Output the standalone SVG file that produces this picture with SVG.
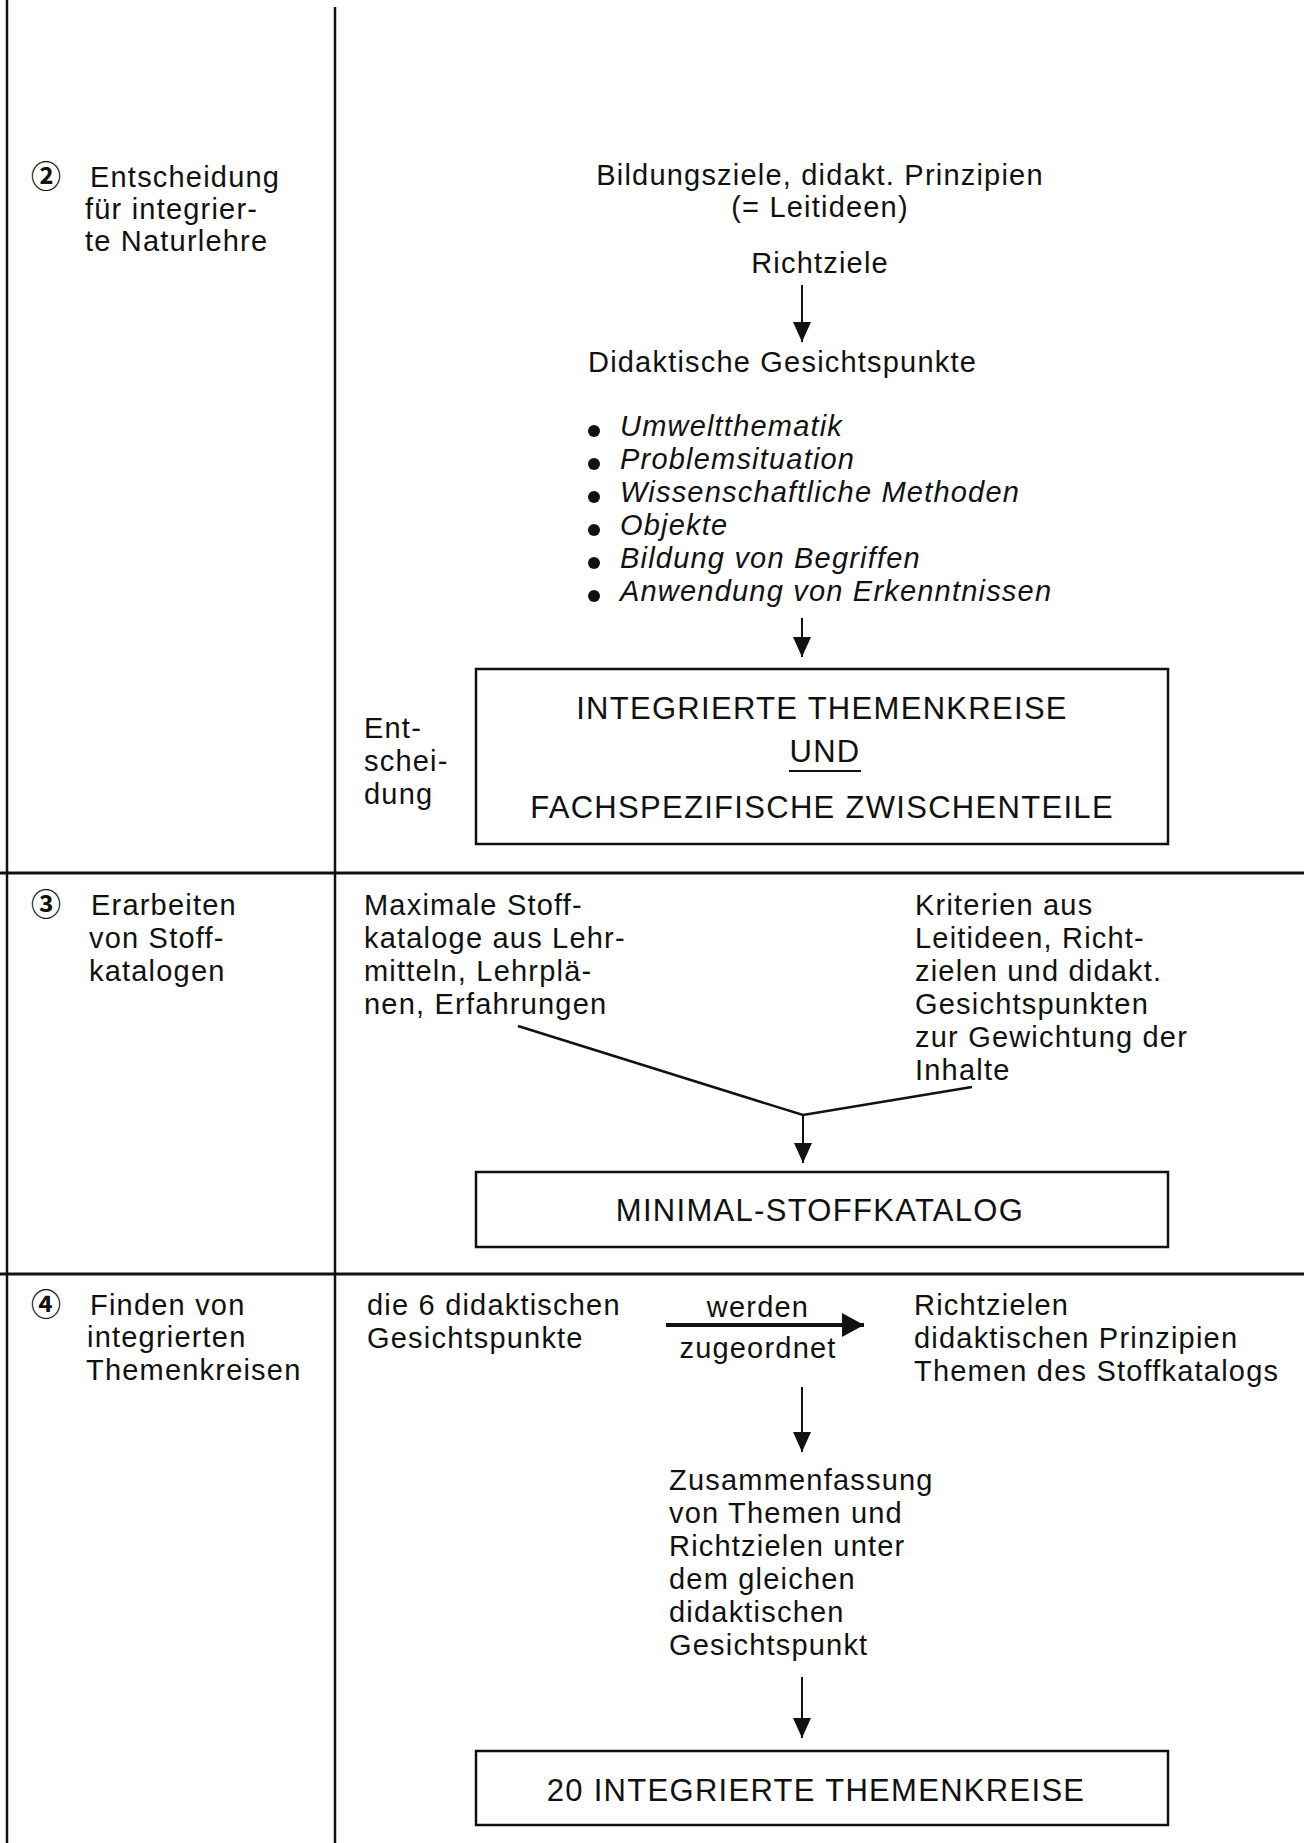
<svg xmlns="http://www.w3.org/2000/svg" width="1304" height="1843" viewBox="0 0 1304 1843">
<defs>
<style>
text{font-family:"Liberation Sans",Arial,sans-serif;font-size:29px;letter-spacing:1.2px;fill:#111}
.c{text-anchor:middle}
.it{font-style:italic}
.cap{font-size:31px;letter-spacing:1.3px}
.num{font-family:"Noto Sans CJK JP","DejaVu Sans",sans-serif;font-size:30px;font-weight:700;letter-spacing:0}
.rule{stroke:#111;fill:none}
.box{fill:none;stroke:#111;stroke-width:2.5}
.con{stroke:#111;fill:none}
.dot{fill:#111}
</style>
<marker id="ah" markerUnits="userSpaceOnUse" markerWidth="20" markerHeight="22" refX="20" refY="9" orient="auto">
<path d="M0,0 L20,9 L0,18 Z" fill="#111"/>
</marker>
<marker id="ah2" markerUnits="userSpaceOnUse" markerWidth="22" markerHeight="26" refX="22" refY="12" orient="auto">
<path d="M0,0 L22,12 L0,24 Z" fill="#111"/>
</marker>
</defs>
<rect width="1304" height="1843" fill="#fff"/>

<g id="grid">
<line class="rule" x1="7" y1="0" x2="7" y2="1843" stroke-width="2.5"/>
<line class="rule" x1="335" y1="7" x2="335" y2="1843" stroke-width="2.5"/>
<line class="rule" x1="0" y1="873" x2="1304" y2="873" stroke-width="3"/>
<line class="rule" x1="0" y1="1274" x2="1304" y2="1274" stroke-width="3"/>
</g>

<g id="step2">
<text class="num" x="31" y="187">②</text>
<text x="90" y="187">Entscheidung</text>
<text x="85" y="219">für integrier-</text>
<text x="85" y="251">te Naturlehre</text>
</g>

<g id="leitideen">
<text class="c" x="820" y="185">Bildungsziele, didakt. Prinzipien</text>
<text class="c" x="820" y="217">(= Leitideen)</text>
</g>

<g id="richtziele">
<text class="c" x="820" y="273">Richtziele</text>
</g>

<g id="gesichtspunkte">
<text x="588" y="372">Didaktische Gesichtspunkte</text>
<circle class="dot" cx="594" cy="431" r="6"/>
<circle class="dot" cx="594" cy="464" r="6"/>
<circle class="dot" cx="594" cy="497" r="6"/>
<circle class="dot" cx="594" cy="530" r="6"/>
<circle class="dot" cx="594" cy="563" r="6"/>
<circle class="dot" cx="594" cy="596" r="6"/>
<text class="it" x="620" y="436">Umweltthematik</text>
<text class="it" x="620" y="469">Problemsituation</text>
<text class="it" x="620" y="502">Wissenschaftliche Methoden</text>
<text class="it" x="620" y="535">Objekte</text>
<text class="it" x="620" y="568">Bildung von Begriffen</text>
<text class="it" x="620" y="601">Anwendung von Erkenntnissen</text>
</g>

<g id="entscheidung">
<text x="364" y="738">Ent-</text>
<text x="364" y="771">schei-</text>
<text x="364" y="804">dung</text>
</g>

<g id="box-themenkreise">
<rect class="box" x="476" y="669" width="692" height="175"/>
<text class="c cap" x="822" y="719">INTEGRIERTE THEMENKREISE</text>
<text class="c cap" x="825" y="762">UND</text>
<line x1="789" y1="771" x2="861" y2="771" stroke="#111" stroke-width="2"/>
<text class="c cap" x="822" y="818">FACHSPEZIFISCHE ZWISCHENTEILE</text>
</g>

<g id="step3">
<text class="num" x="31" y="915">③</text>
<text x="91" y="915">Erarbeiten</text>
<text x="89" y="948">von Stoff-</text>
<text x="89" y="981">katalogen</text>
</g>

<g id="maximal">
<text x="364" y="915">Maximale Stoff-</text>
<text x="364" y="948">kataloge aus Lehr-</text>
<text x="364" y="981">mitteln, Lehrplä-</text>
<text x="364" y="1014">nen, Erfahrungen</text>
</g>

<g id="kriterien">
<text x="915" y="915">Kriterien aus</text>
<text x="915" y="948">Leitideen, Richt-</text>
<text x="915" y="981">zielen und didakt.</text>
<text x="915" y="1014">Gesichtspunkten</text>
<text x="915" y="1047">zur Gewichtung der</text>
<text x="915" y="1080">Inhalte</text>
</g>

<g id="box-minimal">
<rect class="box" x="476" y="1172" width="692" height="75"/>
<text class="c cap" x="820" y="1221">MINIMAL-STOFFKATALOG</text>
</g>

<g id="step4">
<text class="num" x="31" y="1315">④</text>
<text x="90" y="1315">Finden von</text>
<text x="87" y="1347">integrierten</text>
<text x="86" y="1380">Themenkreisen</text>
</g>

<g id="gesichtspunkte6">
<text x="367" y="1315">die 6 didaktischen</text>
<text x="367" y="1348">Gesichtspunkte</text>
</g>

<g id="zuordnung">
<text class="c" x="758" y="1317">werden</text>
<text class="c" x="758" y="1358">zugeordnet</text>
</g>

<g id="ziele">
<text x="914" y="1315">Richtzielen</text>
<text x="914" y="1348">didaktischen Prinzipien</text>
<text x="914" y="1381">Themen des Stoffkatalogs</text>
</g>

<g id="zusammenfassung">
<text x="669" y="1490">Zusammenfassung</text>
<text x="669" y="1523">von Themen und</text>
<text x="669" y="1556">Richtzielen unter</text>
<text x="669" y="1589">dem gleichen</text>
<text x="669" y="1622">didaktischen</text>
<text x="669" y="1655">Gesichtspunkt</text>
</g>

<g id="box-20">
<rect class="box" x="476" y="1751" width="692" height="74"/>
<text class="c cap" x="816" y="1801">20 INTEGRIERTE THEMENKREISE</text>
</g>

<g id="connectors">
<line class="con" stroke-width="2" x1="802" y1="285" x2="802" y2="342" marker-end="url(#ah)"/>
<line class="con" stroke-width="2" x1="802" y1="618" x2="802" y2="657" marker-end="url(#ah)"/>
<polyline class="con" stroke-width="2.5" points="518,1026 803,1115 972,1087"/>
<line class="con" stroke-width="2" x1="803" y1="1115" x2="803" y2="1163" marker-end="url(#ah)"/>
<line class="con" stroke-width="4" x1="666" y1="1325" x2="864" y2="1325" marker-end="url(#ah2)"/>
<line class="con" stroke-width="2" x1="802" y1="1387" x2="802" y2="1452" marker-end="url(#ah)"/>
<line class="con" stroke-width="2" x1="802" y1="1677" x2="802" y2="1738" marker-end="url(#ah)"/>
</g>
</svg>
